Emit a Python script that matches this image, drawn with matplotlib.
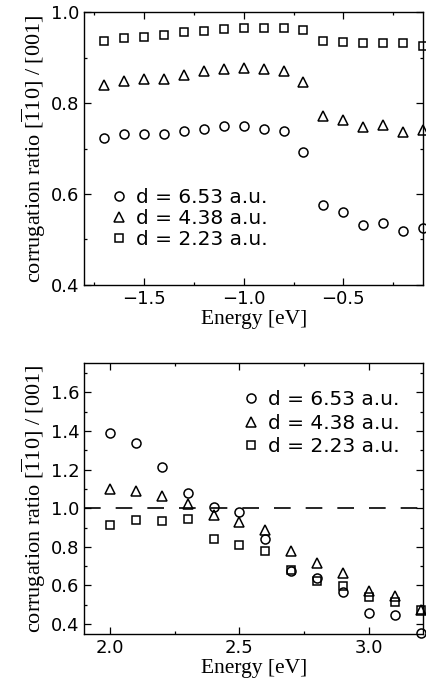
#!/usr/bin/env python3
import matplotlib
matplotlib.use("Agg")
import matplotlib.pyplot as plt
from matplotlib.ticker import MultipleLocator

plt.rcParams["font.family"] = "DejaVu Sans"
plt.rcParams["mathtext.fontset"] = "custom"
plt.rcParams["mathtext.rm"] = "Liberation Serif"
plt.rcParams["mathtext.it"] = "Liberation Serif:italic"

# occupied states (top panel)
energy_occ = [-1.7, -1.6, -1.5, -1.4, -1.3, -1.2, -1.1, -1.0, -0.9,
              -0.8, -0.7, -0.6, -0.5, -0.4, -0.3, -0.2, -0.1]
ratio_occ_653 = [0.724, 0.731, 0.733, 0.731, 0.738, 0.743, 0.750, 0.750, 0.744,
                 0.739, 0.692, 0.575, 0.561, 0.531, 0.537, 0.518, 0.524]
ratio_occ_438 = [0.841, 0.849, 0.853, 0.854, 0.862, 0.870, 0.875, 0.878, 0.876,
                 0.871, 0.847, 0.772, 0.762, 0.748, 0.751, 0.737, 0.742]
ratio_occ_223 = [0.937, 0.943, 0.946, 0.950, 0.956, 0.960, 0.963, 0.965, 0.966,
                 0.966, 0.962, 0.938, 0.934, 0.932, 0.933, 0.932, 0.925]

# unoccupied states (bottom panel)
energy_unocc = [2.0, 2.1, 2.2, 2.3, 2.4, 2.5, 2.6, 2.7, 2.8, 2.9, 3.0, 3.1, 3.2]
ratio_unocc_653 = [1.391, 1.339, 1.215, 1.078, 1.008, 0.978, 0.843, 0.676, 0.636,
                   0.564, 0.455, 0.448, 0.353]
ratio_unocc_438 = [1.099, 1.091, 1.065, 1.023, 0.965, 0.930, 0.888, 0.780, 0.714,
                   0.662, 0.569, 0.547, 0.474]
ratio_unocc_223 = [0.913, 0.940, 0.935, 0.944, 0.838, 0.809, 0.778, 0.681, 0.624,
                   0.598, 0.538, 0.515, 0.474]

labels = ["d = 6.53 a.u.", "d = 4.38 a.u.", "d = 2.23 a.u."]
markers = ["o", "^", "s"]

ylabel = r"corrugation ratio [$\overline{1}$10] / [001]"


def style_axes(ax):
    ax.tick_params(which="both", direction="in", top=True, right=True,
                   labelsize=13, width=0.9)
    ax.tick_params(which="major", length=5)
    ax.tick_params(which="minor", length=2.5)
    for s in ax.spines.values():
        s.set_linewidth(1.0)
    ax.set_xlabel("Energy [eV]", family="Liberation Serif", fontsize=15.5, labelpad=2)
    ax.set_ylabel(ylabel, family="Liberation Serif", fontsize=16, labelpad=2)


def draw_series(ax, x, series):
    for ys, m, lab in zip(series, markers, labels):
        ax.plot(x, ys, linestyle="none", marker=m, markersize=6.5 if m != "s" else 6,
                markerfacecolor="none", markeredgecolor="black", markeredgewidth=1.1,
                label=lab, clip_on=False)


fig = plt.figure(figsize=(4.27, 6.91), dpi=100)
ax1 = fig.add_axes([0.197, 0.588, 0.794, 0.394])
ax2 = fig.add_axes([0.197, 0.083, 0.794, 0.391])

draw_series(ax1, energy_occ, [ratio_occ_653, ratio_occ_438, ratio_occ_223])
ax1.set_xlim(-1.8, -0.1)
ax1.set_ylim(0.4, 1.0)
ax1.xaxis.set_major_locator(MultipleLocator(0.5))
ax1.xaxis.set_minor_locator(MultipleLocator(0.25))
ax1.yaxis.set_major_locator(MultipleLocator(0.2))
ax1.yaxis.set_minor_locator(MultipleLocator(0.1))
ax1.set_xticks([-1.5, -1.0, -0.5])
ax1.set_xticklabels(["\u22121.5", "\u22121.0", "\u22120.5"])
style_axes(ax1)
ax1.legend(loc="lower left", bbox_to_anchor=(0.05, 0.10), frameon=False, fontsize=14.5,
           handletextpad=0.35, labelspacing=0.12, handlelength=1.0, borderaxespad=0)

ax2.axhline(1.0, color="black", linewidth=1.2, dashes=(10, 9))
draw_series(ax2, energy_unocc, [ratio_unocc_653, ratio_unocc_438, ratio_unocc_223])
ax2.set_xlim(1.9, 3.21)
ax2.set_ylim(0.35, 1.75)
ax2.xaxis.set_major_locator(MultipleLocator(0.5))
ax2.xaxis.set_minor_locator(MultipleLocator(0.25))
ax2.yaxis.set_minor_locator(MultipleLocator(0.1))
ax2.set_yticks([0.4, 0.6, 0.8, 1.0, 1.2, 1.4, 1.6])
style_axes(ax2)
ax2.legend(loc="upper right", bbox_to_anchor=(0.955, 0.93), frameon=False, fontsize=14.5,
           handletextpad=0.35, labelspacing=0.22, handlelength=1.0, borderaxespad=0)

fig.savefig("out.png", dpi=100)
